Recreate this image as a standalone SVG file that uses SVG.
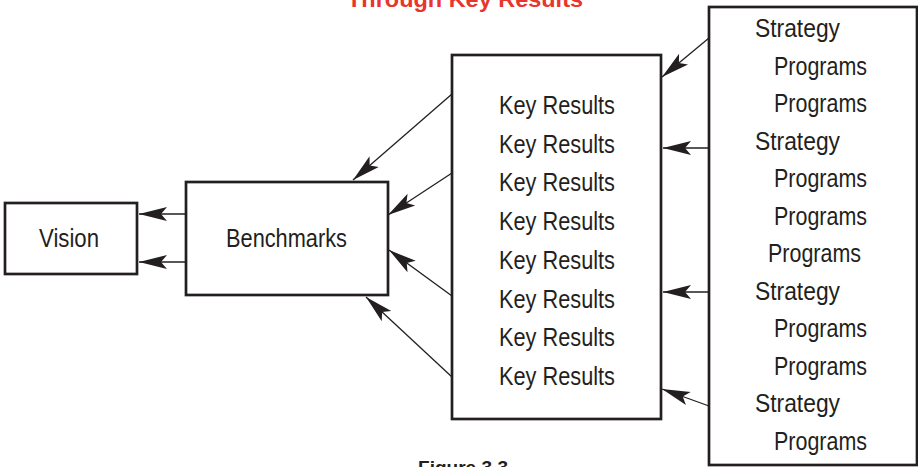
<svg xmlns="http://www.w3.org/2000/svg" width="918" height="467" viewBox="0 0 918 467">
<defs>
<style>
.box{fill:#fff;stroke:#231f20;stroke-width:2.7}
.t{font-family:"Liberation Sans",Arial,sans-serif;font-size:26px;fill:#231f20;lengthAdjust:spacingAndGlyphs}
.c{stroke:#231f20;stroke-width:1.3;fill:none;marker-end:url(#ah)}
.title{font-family:"Liberation Sans",Arial,sans-serif;font-weight:bold;font-size:22px;fill:#e8352d}
.fig{font-family:"Liberation Sans",Arial,sans-serif;font-weight:bold;font-size:19px;fill:#231f20}
</style>
<marker id="ah" markerUnits="userSpaceOnUse" markerWidth="30" markerHeight="16" viewBox="-29 -8 30 16" refX="0" refY="0" orient="auto">
<path d="M0,0 L-28,-7 L-22,0 L-28,7 Z" fill="#231f20"/>
</marker>
</defs>
<text class="title" x="465" y="7" text-anchor="middle" textLength="236" lengthAdjust="spacingAndGlyphs">Through Key Results</text>
<g id="vision">
<rect class="box" x="5" y="203" width="132" height="71"/>
<text class="t" x="39" y="247" textLength="60" lengthAdjust="spacingAndGlyphs">Vision</text>
</g>
<g id="benchmarks">
<rect class="box" x="186" y="182" width="202" height="113"/>
<text class="t" x="226" y="247" textLength="121" lengthAdjust="spacingAndGlyphs">Benchmarks</text>
</g>
<g id="keyresults">
<rect class="box" x="452" y="55" width="209" height="364"/>
<text class="t" x="499" y="114" textLength="116" lengthAdjust="spacingAndGlyphs">Key Results</text>
<text class="t" x="499" y="152.7" textLength="116" lengthAdjust="spacingAndGlyphs">Key Results</text>
<text class="t" x="499" y="191.4" textLength="116" lengthAdjust="spacingAndGlyphs">Key Results</text>
<text class="t" x="499" y="230.1" textLength="116" lengthAdjust="spacingAndGlyphs">Key Results</text>
<text class="t" x="499" y="268.8" textLength="116" lengthAdjust="spacingAndGlyphs">Key Results</text>
<text class="t" x="499" y="307.5" textLength="116" lengthAdjust="spacingAndGlyphs">Key Results</text>
<text class="t" x="499" y="346.2" textLength="116" lengthAdjust="spacingAndGlyphs">Key Results</text>
<text class="t" x="499" y="384.9" textLength="116" lengthAdjust="spacingAndGlyphs">Key Results</text>
</g>
<g id="strategies">
<rect class="box" x="709" y="7" width="208" height="458"/>
<text class="t" x="755" y="37" textLength="85" lengthAdjust="spacingAndGlyphs">Strategy</text>
<text class="t" x="774" y="74.5" textLength="93" lengthAdjust="spacingAndGlyphs">Programs</text>
<text class="t" x="774" y="112" textLength="93" lengthAdjust="spacingAndGlyphs">Programs</text>
<text class="t" x="755" y="149.5" textLength="85" lengthAdjust="spacingAndGlyphs">Strategy</text>
<text class="t" x="774" y="187" textLength="93" lengthAdjust="spacingAndGlyphs">Programs</text>
<text class="t" x="774" y="224.5" textLength="93" lengthAdjust="spacingAndGlyphs">Programs</text>
<text class="t" x="768" y="262" textLength="93" lengthAdjust="spacingAndGlyphs">Programs</text>
<text class="t" x="755" y="299.5" textLength="85" lengthAdjust="spacingAndGlyphs">Strategy</text>
<text class="t" x="774" y="337" textLength="93" lengthAdjust="spacingAndGlyphs">Programs</text>
<text class="t" x="774" y="374.5" textLength="93" lengthAdjust="spacingAndGlyphs">Programs</text>
<text class="t" x="755" y="412" textLength="85" lengthAdjust="spacingAndGlyphs">Strategy</text>
<text class="t" x="774" y="449.5" textLength="93" lengthAdjust="spacingAndGlyphs">Programs</text>
</g>
<g id="connectors">
<line class="c" x1="452" y1="94" x2="353" y2="180"/>
<line class="c" x1="452" y1="173" x2="388" y2="215"/>
<line class="c" x1="452" y1="296" x2="389" y2="250"/>
<line class="c" x1="452" y1="377" x2="366" y2="297"/>
<line class="c" x1="186" y1="214" x2="139" y2="214"/>
<line class="c" x1="186" y1="262" x2="139" y2="262"/>
<line class="c" x1="709" y1="38" x2="662" y2="77"/>
<line class="c" x1="709" y1="148" x2="663" y2="148"/>
<line class="c" x1="709" y1="292" x2="663" y2="292"/>
<line class="c" x1="709" y1="406" x2="662" y2="389"/>
</g>
<text class="fig" x="463" y="474" text-anchor="middle" textLength="90" lengthAdjust="spacingAndGlyphs">Figure 3.3</text>
</svg>
